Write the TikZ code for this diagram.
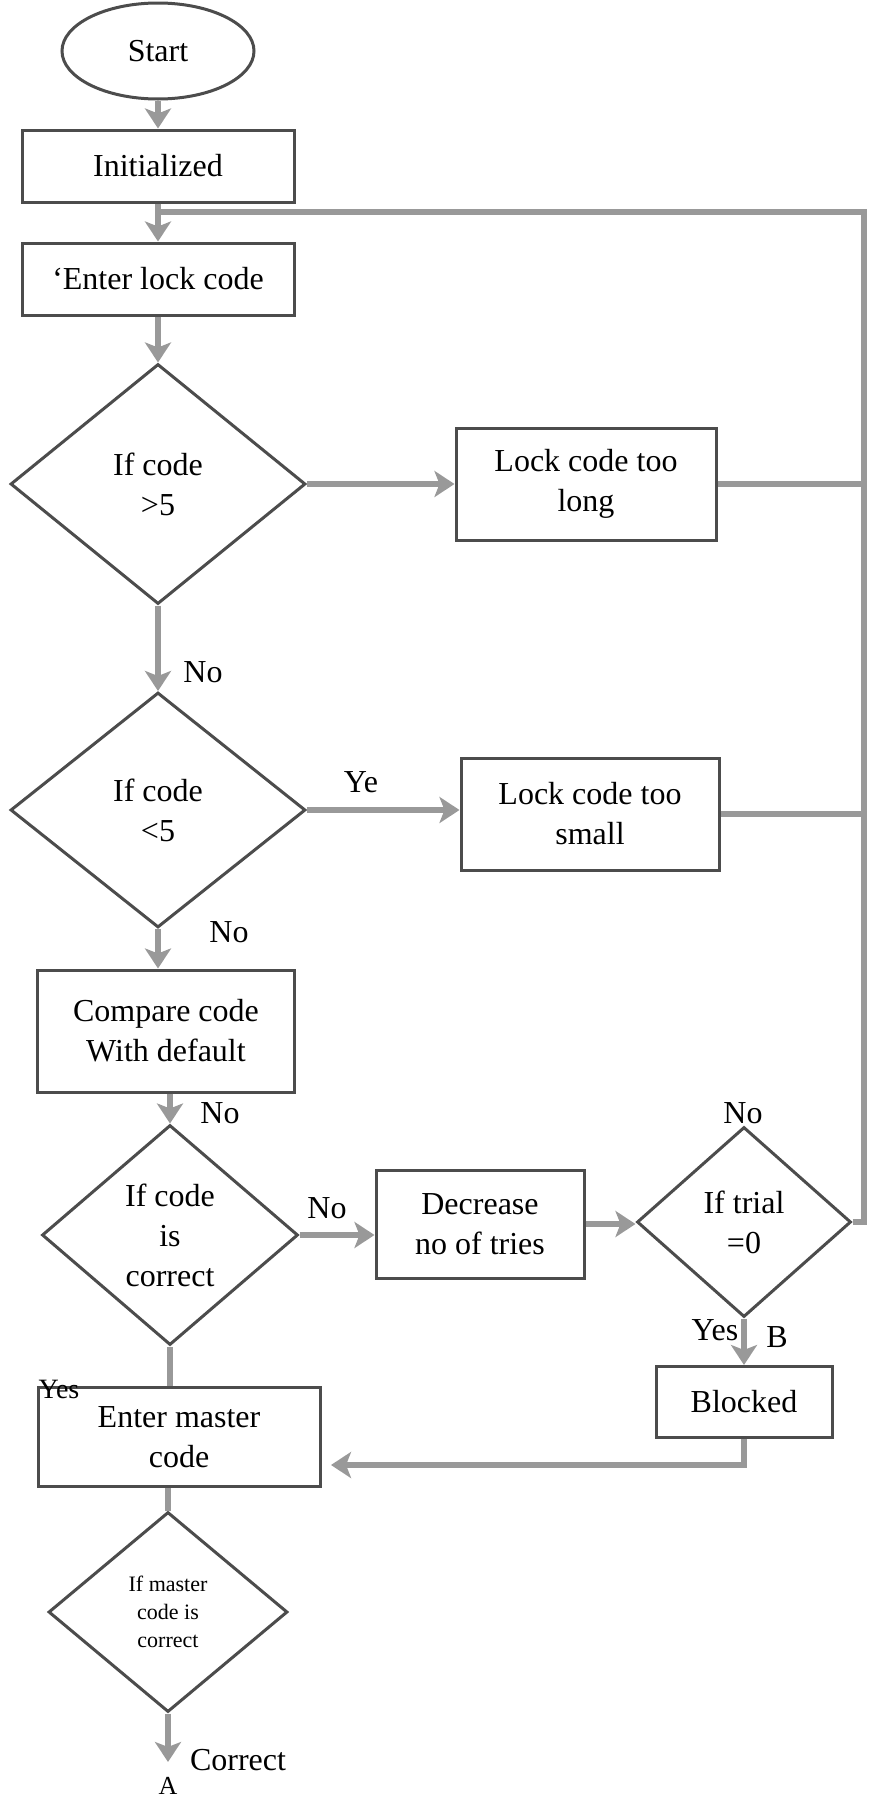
\documentclass[tikz,border=0pt]{standalone}
\usepackage{fontspec}
\setmainfont{Liberation Serif}
\usetikzlibrary{shapes.geometric,arrows.meta}

\tikzset{
  box/.style={draw=black!70, line width=3pt, rectangle, inner sep=0pt, align=center},
  dia/.style={draw=black!70, line width=3pt, diamond, inner sep=0pt, align=center},
  flow/.style={draw=black!40, line width=6pt, -{Stealth[length=20pt,width=26pt,inset=5pt]}},
  plainline/.style={draw=black!40, line width=6pt},
  lbl/.style={inner sep=0pt}
}

\begin{document}
\begin{tikzpicture}[x=1pt, y=-1pt, font=\fontsize{32}{40}\selectfont]
  \useasboundingbox (0,0) rectangle (876,1802);

  % left column
  \node[draw=black!70, line width=3pt, ellipse, minimum width=192pt, minimum height=96pt] (start) at (158,51) {Start};
  \node[box, minimum width=272pt, minimum height=72pt] (init) at (158,166) {Initialized};
  \node[box, minimum width=272pt, minimum height=72pt] (enter) at (158,279) {\textquoteleft Enter lock code};
  \node[dia, minimum width=295pt, minimum height=240pt] (d1) at (158,484) {If code\\>5};
  \node[dia, minimum width=295pt, minimum height=235pt] (d2) at (158,810) {If code\\<5};
  \node[box, minimum width=257pt, minimum height=122pt] (cmp) at (166,1031) {Compare code\\With default};
  \node[dia, minimum width=256pt, minimum height=220pt] (d3) at (170,1235) {If code\\is\\correct};
  \node[box, minimum width=282pt, minimum height=99pt] (master) at (179,1437) {Enter master\\code};
  \node[dia, minimum width=239pt, minimum height=200pt, font=\fontsize{22}{28}\selectfont] (d5) at (168,1612) {If master\\code is\\correct};

  % right side
  \node[box, minimum width=260pt, minimum height=112pt] (long) at (586,484) {Lock code too\\long};
  \node[box, minimum width=258pt, minimum height=112pt] (small) at (590,814) {Lock code too\\small};
  \node[box, minimum width=208pt, minimum height=108pt] (dec) at (480,1224) {Decrease\\no of tries};
  \node[dia, minimum width=214pt, minimum height=190pt] (d4) at (744,1222) {If trial\\=0};
  \node[box, minimum width=176pt, minimum height=71pt] (blk) at (744,1402) {Blocked};

  \coordinate (rt) at (864,212);
  \coordinate (jn) at (158,212);
  \coordinate (mb) at (331,1465);
  \coordinate (aend) at (168,1762);

  % connectors
  \draw[flow] (start) -- (init);
  \draw[flow] (init) -- (enter);
  \draw[flow] (enter) -- (d1);
  \draw[flow] (d1) -- (d2);
  \draw[flow] (d2.south) -- (d2.south |- cmp.north);
  \draw[flow] (d3.north |- cmp.south) -- (d3.north);
  \draw[flow] (d1) -- (long);
  \draw[flow] (d2.east) -- (d2.east -| small.west);
  \draw[flow] (d3.east) -- (d3.east -| dec.west);
  \draw[flow] (dec.east) -- (dec.east -| d4.west);
  \draw[flow] (d4) -- (blk);
  \draw[flow] (blk.south) |- (mb);
  \draw[plainline] (d3.south) -- (d3.south |- master.north);
  \draw[plainline] (d5.north |- master.south) -- (d5.north);
  \draw[flow] (d5.south) -- (aend);

  % loop back
  \draw[plainline] (d4.east) -| (rt) -- (jn);
  \draw[plainline] (long.east) -- (long.east -| rt);
  \draw[plainline] (small.east) -- (small.east -| rt);

  % labels
  \node[lbl] (no1) at (203,672) {No};
  \node[lbl] (ye) at (361,782) {Ye};
  \node[lbl] (no2) at (229,932) {No};
  \node[lbl] (no3) at (220,1113) {No};
  \node[lbl] (no4) at (327,1208) {No};
  \node[lbl] (no5) at (743,1113) {No};
  \node[lbl] (yes1) at (715,1330) {Yes};
  \node[lbl] (b) at (777,1337) {B};
  \node[lbl, font=\fontsize{28}{34}\selectfont] (yes2) at (59,1389) {Yes};
  \node[lbl] (corr) at (238,1760) {Correct};
  \node[lbl, font=\fontsize{26}{30}\selectfont] (a) at (168,1786) {A};
\end{tikzpicture}
\end{document}
